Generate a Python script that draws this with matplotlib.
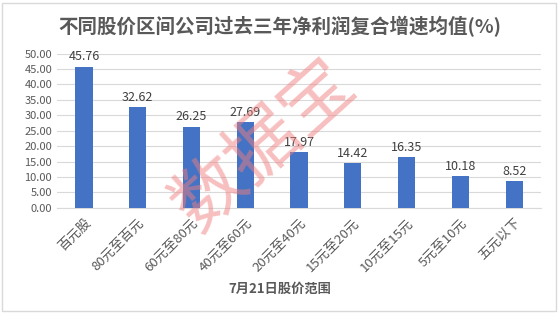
import matplotlib.pyplot as plt
import numpy as np

plt.rcParams['font.family'] = ['Noto Sans CJK SC', 'DejaVu Sans']

categories = ['百元股', '80元至百元', '60元至80元', '40元至60元', '20元至40元',
              '15元至20元', '10元至15元', '5元至10元', '五元以下']
values = [45.76, 32.62, 26.25, 27.69, 17.97, 14.42, 16.35, 10.18, 8.52]

fig = plt.figure(figsize=(5.59, 3.14), dpi=100)
ax = fig.add_axes([0.102, 0.3385, 0.866, 0.4905])

x = np.arange(len(categories))
bars = ax.bar(x, values, width=0.32, color='#4472C4', zorder=3)
for xi, v in zip(x, values):
    ax.text(xi, v + 1.2, f'{v:.2f}', ha='center', va='bottom', fontsize=9,
            color='#404040', zorder=4)

ax.set_xlim(-0.5, len(categories) - 0.5)
ax.set_ylim(0, 50)
ax.set_yticks(np.arange(0, 51, 5))
ax.set_yticklabels([f'{t:.2f}' for t in np.arange(0, 51, 5)])
ax.grid(axis='y', color='#D9D9D9', linewidth=0.8, zorder=0)
for s in ['top', 'right', 'left']:
    ax.spines[s].set_visible(False)
ax.spines['bottom'].set_color('#D9D9D9')
ax.tick_params(length=0, colors='#595959', labelsize=8)
ax.set_xticks(x)
ax.set_xticklabels(categories, rotation=45, ha='right', rotation_mode='anchor',
                   fontsize=9.5)
ax.tick_params(axis='x', pad=6)

fig.text(0.5, 0.915, '不同股价区间公司过去三年净利润复合增速均值(%)', ha='center',
         va='center', fontsize=14, fontweight='bold', color='#595959')
fig.text(0.5, 0.08, '7月21日股价范围', ha='center', va='center', fontsize=9.5,
         fontweight='bold', color='#595959')

# watermark
fig.text(0.472, 0.535, '数据宝', ha='center', va='center', fontsize=52,
         fontweight='light', rotation=42, color='#F08080', alpha=0.5, zorder=10)

fig.patches.append(plt.Rectangle((0.004, 0.01), 0.99, 0.98, transform=fig.transFigure,
                                 fill=False, edgecolor='#D9D9D9', linewidth=1))

fig.savefig('out.png', dpi=100)
